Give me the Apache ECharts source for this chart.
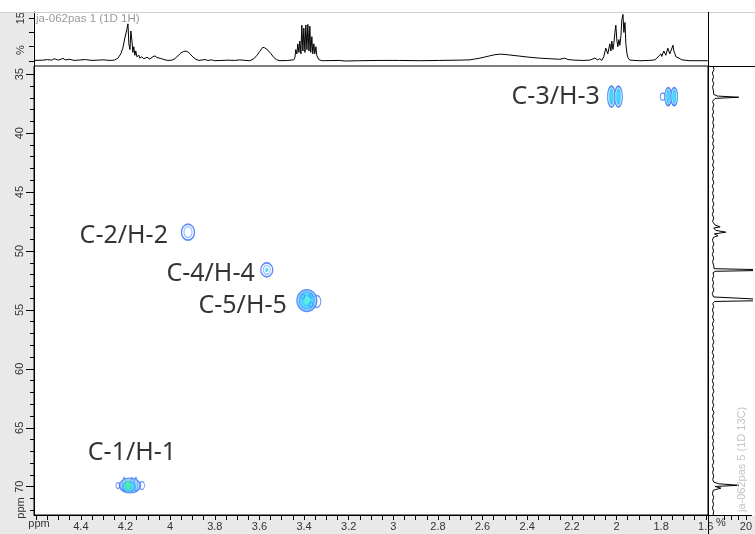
<!DOCTYPE html>
<html>
<head>
<meta charset="utf-8">
<script src="https://cdn.jsdelivr.net/npm/echarts@6/dist/echarts.min.js"></script>
<style>
  html, body { margin: 0; padding: 0; background: #fff; }
  #chart { width: 755px; height: 534px; }
</style>
</head>
<body>
<div id="chart"></div>
<script>
// HSQC cross peaks: 1H shift (ppm), 13C shift (ppm), assignment
const peakH = [4.180, 3.920, 3.567, 3.383, 2.007, 1.757];
const peakC = [69.9, 48.4, 51.6, 54.2, 36.9, 36.9];
const peakNames = ['C-1/H-1', 'C-2/H-2', 'C-4/H-4', 'C-5/H-5', 'C-3/H-3', ''];

// 1D 1H projection: shift (ppm) and intensity (%)
const protonPpm = [
  4.61, 4.57, 4.55, 4.53, 4.52, 4.50, 4.48, 4.47, 4.45, 4.43, 4.38, 4.35, 4.30, 4.27, 4.25,
  4.234, 4.221, 4.212, 4.203, 4.194, 4.189, 4.185, 4.180, 4.176, 4.171, 4.167, 4.163, 4.158, 4.154, 4.149,
  4.140, 4.136, 4.127, 4.118, 4.104, 4.091, 4.077, 4.068, 4.059, 4.051, 4.042, 4.028, 4.010, 3.992,
  3.979, 3.965, 3.952, 3.939, 3.925, 3.912, 3.898, 3.885, 3.871, 3.844, 3.831, 3.813, 3.800,
  3.768, 3.741, 3.710, 3.688, 3.661, 3.643,
  3.625, 3.611, 3.598, 3.585, 3.576, 3.562, 3.549, 3.535, 3.522, 3.508, 3.473, 3.446,
  3.441, 3.437, 3.432, 3.428, 3.423, 3.419, 3.414, 3.410, 3.405, 3.401, 3.396, 3.392, 3.387, 3.383,
  3.378, 3.374, 3.370, 3.365, 3.361, 3.356, 3.352, 3.347, 3.343, 3.338, 3.334, 3.320,
  3.240, 3.217, 3.150, 3.060, 2.971, 2.881, 2.792, 2.702, 2.657,
  2.635, 2.612, 2.590, 2.568, 2.545, 2.523, 2.500, 2.478, 2.433, 2.388, 2.344, 2.299, 2.254, 2.232, 2.218,
  2.187, 2.151, 2.120, 2.097, 2.084, 2.075, 2.066,
  2.057, 2.048, 2.043, 2.039, 2.034, 2.030, 2.025, 2.021, 2.016, 2.012, 2.007, 2.003, 1.998, 1.994,
  1.989, 1.985, 1.980, 1.976, 1.971, 1.967, 1.962, 1.958, 1.953, 1.949, 1.940, 1.895, 1.851, 1.828,
  1.819, 1.810, 1.801, 1.797, 1.788, 1.783, 1.779, 1.770, 1.765, 1.761, 1.756, 1.747, 1.743, 1.738,
  1.734, 1.729, 1.720, 1.707, 1.671, 1.626, 1.591
];
const protonInt = [
  0.2, 0.3, 0.5, 0.3, 0.8, 0.3, 0.9, 0.4, 0.6, 0.2, 0.5, 0.2, 0.4, 0.2, 0.3,
  1.0, 2.5, 4.5, 8.0, 11.0, 13.0, 6.0, 4.0, 10.5, 7.0, 3.0, 5.0, 2.0, 3.5, 1.5,
  2.0, 1.0, 1.5, 0.8, 1.3, 0.7, 1.5, 1.8, 1.2, 1.6, 0.9, 0.5, 0.2, 0.3,
  0.8, 1.8, 2.8, 3.4, 3.4, 2.6, 1.4, 0.6, 0.2, 0.5, 0.2, 0.4, 0.1,
  0.2, 0.3, 0.2, 0.4, 0.2, 0.1,
  0.8, 2.0, 3.4, 4.8, 4.6, 3.8, 2.6, 1.2, 0.4, 0.1, 0.2, 0.4,
  1.2, 4.0, 2.5, 6.0, 3.0, 7.0, 2.5, 12.5, 3.5, 11.5, 3.0, 12.6, 4.0, 12.8,
  3.5, 12.2, 3.0, 8.5, 2.5, 6.0, 2.5, 5.0, 2.0, 2.5, 0.5, 0.1,
  0.2, 0.0, 0.1, 0.2, 0.2, 0.1, 0.2, 0.3, 0.4,
  0.7, 1.0, 1.4, 1.8, 2.2, 2.4, 2.3, 2.1, 1.7, 1.3, 1.0, 0.8, 0.6, 1.0, 0.5,
  0.3, 0.2, 0.3, 1.0, 0.4, 0.8, 0.2,
  1.5, 4.5, 4.8, 2.5, 3.0, 6.0, 3.5, 7.0, 4.0, 6.0, 10.0, 12.5, 7.0, 5.0,
  7.5, 5.5, 9.0, 14.5, 16.3, 10.0, 13.5, 6.0, 2.5, 1.2, 0.3, 0.1, 0.2, 0.4,
  1.0, 1.8, 2.5, 1.6, 3.5, 4.0, 2.0, 4.5, 4.5, 2.5, 3.0, 5.5, 3.5, 2.5,
  1.5, 2.0, 1.0, 0.4, 0.1, 0.1, 0.1
];

// 1D 13C projection: shift (ppm) and intensity (%)
const carbonPpm = [
  34.3, 34.6, 34.9, 35.2, 35.5, 35.8, 36.1, 36.4, 36.7, 36.85, 36.95, 37.05, 37.3, 37.6, 37.9,
  38.2, 38.5, 38.8, 39.1, 39.4, 39.7, 40.0, 40.3, 40.6, 40.9, 41.2, 41.5, 41.8, 42.1, 42.4,
  42.7, 43.0, 43.3, 43.6, 43.9, 44.2, 44.5, 44.8, 45.1, 45.4, 45.7, 46.0, 46.3, 46.6, 46.9,
  47.2, 47.5, 47.8, 47.95, 48.05, 48.25, 48.4, 48.55, 48.7, 48.85, 49.1, 49.4, 49.7, 50.0, 50.3,
  50.6, 50.9, 51.2, 51.5, 51.62, 51.72, 51.85, 52.1, 52.4, 52.7, 53.0, 53.3, 53.6, 53.9, 54.05,
  54.18, 54.28, 54.45, 54.7, 55.0, 55.3, 55.6, 55.9, 56.2, 56.5, 56.8, 57.1, 57.4, 57.7, 58.0,
  58.3, 58.6, 58.9, 59.2, 59.5, 59.8, 60.1, 60.4, 60.7, 61.0, 61.3, 61.6, 61.9, 62.2, 62.5,
  62.8, 63.1, 63.4, 63.7, 64.0, 64.3, 64.6, 64.9, 65.2, 65.5, 65.8, 66.1, 66.4, 66.7, 67.0,
  67.3, 67.6, 67.9, 68.2, 68.5, 68.8, 69.1, 69.4, 69.6, 69.75, 69.88, 69.98, 70.12, 70.3, 70.6,
  70.9, 71.2, 71.5, 71.8, 72.1, 72.4
];
const carbonInt = [
  -3.0, -2.3, -3.5, -2.6, -3.4, -2.5, -3.3, -2.7, -2.5, 0.0, 15.0, -1.5, -3.4, -2.4, -3.3,
  -2.6, -3.5, -2.5, -3.2, -2.4, -3.4, -2.7, -3.5, -2.5, -3.3, -2.4, -3.4, -2.6, -3.5, -2.5,
  -3.3, -2.4, -3.4, -2.7, -3.3, -2.4, -3.5, -2.6, -3.3, -2.5, -3.4, -2.4, -3.3, -2.6, -3.5,
  -2.5, -3.3, -1.5, 2.0, -2.5, -1.0, 6.0, -2.0, 0.5, -2.8, -3.4, -2.4, -3.3, -2.6, -3.5,
  -2.5, -3.3, -2.6, -2.2, 45.0, -1.5, -3.0, -2.5, -3.4, -2.6, -3.3, -2.4, -3.5, -2.6, -2.2,
  45.0, -1.8, -3.2, -2.5, -3.4, -2.6, -3.3, -2.4, -3.5, -2.6, -3.3, -2.5, -3.4, -2.4, -3.3,
  -2.6, -3.5, -2.5, -3.3, -2.4, -3.4, -2.7, -3.3, -2.5, -3.5, -2.6, -3.3, -2.4, -3.4, -2.6,
  -3.3, -2.5, -3.5, -2.4, -3.3, -2.6, -3.4, -2.5, -3.3, -2.4, -3.5, -2.6, -3.3, -2.5, -3.4,
  -2.6, -3.3, -2.4, -3.5, -2.6, -3.3, -2.5, -3.2, -2.5, 1.0, 15.0, -1.5, 2.5, -2.8, -3.4,
  -2.5, -3.3, -2.6, -3.4, -2.5, -2.9
];

// tick labels
const hLabels = [4.4, 4.2, 4.0, 3.8, 3.6, 3.4, 3.2, 3.0, 2.8, 2.6, 2.4, 2.2, 2.0, 1.8, 1.6];
const cLabels = [35, 40, 45, 50, 55, 60, 65, 70];
const pctTicks = [0, 5, 10, 15];
const pctLabels = [15];
const carbonPctTicks = [5, 10, 15, 20];
const carbonPctLabels = [20];

// minor tick positions
const hTicks = [];
for (let k = 0; k <= 60; k++) hTicks.push(+(1.6 + k * 0.05).toFixed(2));
const cTicks = [];
for (let k = 34; k <= 72; k++) cTicks.push(k);

// contour rings for each cross peak: [w, h, dx, dy, fill, stroke, lineWidth]
const rings = [
  [ // C-1/H-1
    [5, 8, 12, 0, 'none', '#3a6ef2', 1],
    [4, 6, -12, 0, 'none', '#3a6ef2', 1],
    [21, 15, 0, 0, '#8cc8ff', '#3a6ef2', 1.2],
    [3, 14, -6, -1, 'none', '#3f82ff', 0.9],
    [3, 14, 6, -1, 'none', '#3f82ff', 0.9],
    [3, 13, 2, -1, 'none', '#3f82ff', 0.9],
    [13, 10, -1, 1, '#40d4ff', '#3a9cff', 1],
    [5, 9, -2, 0, '#4ef29a', '#40d8c4', 1]
  ],
  [ // C-2/H-2
    [13, 16, 0, 0, '#ffffff', '#3a6df2', 1.5],
    [8, 11, 0, 0, '#ffffff', '#6fb0ff', 1.2]
  ],
  [ // C-4/H-4
    [12, 14, 0, 0, '#ffffff', '#3a6df2', 1.4],
    [7, 9, 0, 0, '#ffffff', '#6fb0ff', 1.1],
    [3, 4, 0, 0, '#3fcfff', '#3fcfff', 0.5]
  ],
  [ // C-5/H-5
    [8, 12, 9, 1, '#ffffff', '#3f78f4', 1.2],
    [20, 22, -1, 0, '#7cc6ff', '#3f78f4', 1.2],
    [15, 17, -1, 0, '#44d8ff', '#4a9cff', 1],
    [8, 10, -1, 0, '#5cf0e4', '#45c0ff', 1],
    [4, 5, -5, -4, 'none', '#3a84ff', 0.8],
    [4, 5, 3, 4, 'none', '#3a84ff', 0.8],
    [3, 4, 3, -5, 'none', '#3a84ff', 0.8]
  ],
  [ // C-3/H-3, left multiplet
    [8, 21, -3.5, 0, '#8fd8ff', '#2f66f0', 1.2],
    [8, 21, 3.5, 0, '#8fd8ff', '#2f66f0', 1.2],
    [3.5, 14, -3.5, 0, '#2ad7ff', '#30b0ff', 0.8],
    [3.5, 14, 3.5, 0, '#2ad7ff', '#30b0ff', 0.8]
  ],
  [ // C-3/H-3, right multiplet
    [5, 7, -8, 0, 'none', '#2f66f0', 1],
    [7, 18, -2.5, 0, '#8fd8ff', '#2f66f0', 1.2],
    [7, 18, 3.5, 0, '#8fd8ff', '#2f66f0', 1.2],
    [3, 12, -2.5, 0, '#2ad7ff', '#30b0ff', 0.8],
    [3, 12, 3.5, 0, '#2ad7ff', '#30b0ff', 0.8]
  ]
];

// assignment label placement: [position, distance, offset]
const labelPlace = [
  ['top', 20, [2, 0]],
  ['left', 20, [0, 4]],
  ['left', 12, [0, 4]],
  ['left', 21, [0, 5]],
  ['left', 15, [0, 0]],
  ['left', 0, [0, 0]]
];

const contourData = [];
peakH.forEach((h, i) => {
  rings[i].forEach(r => {
    contourData.push({
      value: [h, peakC[i]],
      symbolSize: [r[0], r[1]],
      symbolOffset: [r[2], r[3]],
      itemStyle: {
        color: r[4] === 'none' ? 'rgba(0,0,0,0)' : r[4],
        borderColor: r[5],
        borderWidth: r[6]
      }
    });
  });
});

const labelData = peakH.map((h, i) => ({
  value: [h, peakC[i]],
  name: peakNames[i],
  label: {
    position: labelPlace[i][0],
    distance: labelPlace[i][1],
    offset: labelPlace[i][2]
  }
}));

const axisFont = { fontFamily: 'Liberation Sans', fontSize: 11, color: '#333' };
const H_MIN = 1.59, H_MAX = 4.61;
const C_MIN = 34.3, C_MAX = 72.4;

const chart = echarts.init(document.getElementById('chart'), null, { renderer: 'canvas' });
chart.setOption({
  animation: false,
  backgroundColor: '#ffffff',
  grid: [
    { left: 34, top: 66, width: 674, height: 449, show: true, backgroundColor: '#fff', borderColor: '#000', borderWidth: 1, containLabel: false },
    { left: 34, top: 12, width: 674, height: 54, containLabel: false },
    { left: 708, top: 66, width: 47, height: 449, containLabel: false }
  ],
  xAxis: [
    {
      gridIndex: 0, type: 'value', min: H_MIN, max: H_MAX, inverse: true, position: 'bottom',
      axisLine: { show: true, lineStyle: { color: '#000', width: 1 } },
      axisTick: { show: true, customValues: hTicks, length: 5, lineStyle: { color: '#000' } },
      axisLabel: Object.assign({ customValues: hLabels, margin: 6 }, axisFont),
      splitLine: { show: false }
    },
    { gridIndex: 1, type: 'value', min: H_MIN, max: H_MAX, inverse: true, show: false },
    {
      gridIndex: 2, type: 'value', min: -6.5, max: 23.9, position: 'bottom',
      axisLine: { show: true, lineStyle: { color: '#000', width: 1 } },
      axisTick: { show: true, customValues: carbonPctTicks, length: 5, lineStyle: { color: '#000' } },
      axisLabel: Object.assign({ customValues: carbonPctLabels, margin: 6, alignMaxLabel: 'left' }, axisFont),
      splitLine: { show: false }
    }
  ],
  yAxis: [
    {
      gridIndex: 0, type: 'value', min: C_MIN, max: C_MAX, inverse: true, position: 'left',
      axisLine: { show: true, lineStyle: { color: '#000', width: 1 } },
      axisTick: { show: true, customValues: cTicks, length: 4, lineStyle: { color: '#000' } },
      axisLabel: { show: false },
      splitLine: { show: false }
    },
    {
      gridIndex: 1, type: 'value', min: -1.75, max: 17.15, position: 'left',
      axisLine: { show: true, lineStyle: { color: '#000', width: 1 } },
      axisTick: { show: true, customValues: pctTicks, length: 5, lineStyle: { color: '#000' } },
      axisLabel: Object.assign({ customValues: pctLabels, rotate: 90, margin: 8 }, axisFont),
      splitLine: { show: false }
    },
    { gridIndex: 2, type: 'value', min: C_MIN, max: C_MAX, inverse: true, show: false },
    {
      gridIndex: 0, type: 'value', min: C_MIN, max: C_MAX, inverse: true, position: 'left',
      axisLine: { show: false },
      axisTick: { show: true, customValues: cLabels, length: 8, lineStyle: { color: '#000' } },
      axisLabel: Object.assign({ customValues: cLabels, rotate: 90, margin: 9 }, axisFont),
      splitLine: { show: false }
    }
  ],
  graphic: [
    { type: 'rect', z: -1, shape: { x: 0, y: 12, width: 33.5, height: 522 }, style: { fill: '#e9e9e9' } },
    { type: 'rect', z: -1, shape: { x: 0, y: 515.5, width: 755, height: 19 }, style: { fill: '#e9e9e9' } },
    { type: 'line', z: 5, shape: { x1: 0, y1: 12.5, x2: 755, y2: 12.5 }, style: { stroke: '#cfcfcf', lineWidth: 1 } },
    { type: 'line', z: 5, shape: { x1: 708.5, y1: 12, x2: 708.5, y2: 534 }, style: { stroke: '#000', lineWidth: 1 } },
    { type: 'line', z: 5, shape: { x1: 708, y1: 66.5, x2: 755, y2: 66.5 }, style: { stroke: '#000', lineWidth: 1 } },
    { type: 'text', z: 5, x: 36, y: 19,
      style: { text: 'ja-062pas 1 (1D 1H)', fill: '#9a9a9a', font: '11.5px "Liberation Sans"', align: 'left', verticalAlign: 'middle', textAlign: 'left', textVerticalAlign: 'middle' } },
    { type: 'text', z: 5, x: 742, y: 512, rotation: Math.PI / 2,
      style: { text: 'ja-062pas 5 (1D 13C)', fill: '#c4c4c4', font: '11px "Liberation Sans"', align: 'left', verticalAlign: 'middle', textAlign: 'left', textVerticalAlign: 'middle' } },
    { type: 'text', z: 5, x: 21, y: 50, rotation: Math.PI / 2,
      style: { text: '%', fill: '#333', font: '11px "Liberation Sans"', align: 'center', verticalAlign: 'middle', textAlign: 'center', textVerticalAlign: 'middle' } },
    { type: 'text', z: 5, x: 21, y: 508, rotation: Math.PI / 2,
      style: { text: 'ppm', fill: '#333', font: '11px "Liberation Sans"', align: 'center', verticalAlign: 'middle', textAlign: 'center', textVerticalAlign: 'middle' } },
    { type: 'text', z: 5, x: 39, y: 524,
      style: { text: 'ppm', fill: '#333', font: '11px "Liberation Sans"', align: 'center', verticalAlign: 'middle', textAlign: 'center', textVerticalAlign: 'middle' } },
    { type: 'text', z: 5, x: 721, y: 523,
      style: { text: '%', fill: '#333', font: '11px "Liberation Sans"', align: 'center', verticalAlign: 'middle', textAlign: 'center', textVerticalAlign: 'middle' } }
  ],
  series: [
    {
      name: '1H', type: 'line', xAxisIndex: 1, yAxisIndex: 1,
      data: protonPpm.map((p, i) => [p, protonInt[i]]),
      symbol: 'none', silent: true, clip: true,
      lineStyle: { color: '#000', width: 1 }
    },
    {
      name: '13C', type: 'line', xAxisIndex: 2, yAxisIndex: 2,
      data: carbonPpm.map((c, i) => [carbonInt[i], c]),
      symbol: 'none', silent: true, clip: true,
      lineStyle: { color: '#000', width: 1 }
    },
    {
      name: 'HSQC', type: 'scatter', xAxisIndex: 0, yAxisIndex: 0,
      data: contourData, silent: true, symbol: 'circle',
      emphasis: { disabled: true }
    },
    {
      name: 'assignments', type: 'scatter', xAxisIndex: 0, yAxisIndex: 0,
      data: labelData, silent: true, symbolSize: 0.1,
      itemStyle: { color: 'rgba(0,0,0,0)' },
      emphasis: { disabled: true },
      label: {
        show: true, formatter: '{b}', color: '#000',
        fontFamily: 'Noto Sans', fontSize: 25
      }
    }
  ]
});
</script>
</body>
</html>
